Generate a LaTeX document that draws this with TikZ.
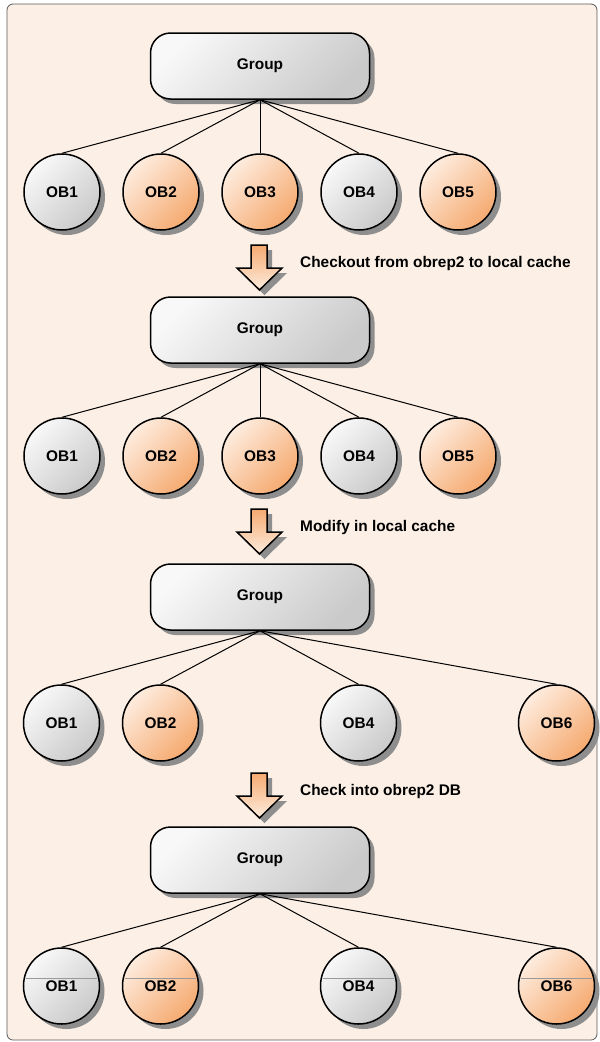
\documentclass[tikz,border=0pt]{standalone}
\usepackage{fontspec}
\setmainfont{Liberation Sans}
\usetikzlibrary{shadows}

\definecolor{sheet}{RGB}{252,239,229}
\definecolor{greylight}{RGB}{248,248,248}
\definecolor{greydark}{RGB}{202,202,202}
\definecolor{peachlight}{RGB}{254,236,222}
\definecolor{peachdark}{RGB}{245,170,112}
\definecolor{shade}{RGB}{142,142,142}

\tikzset{
  every node/.style = {font=\fontsize{15.4}{18}\selectfont\bfseries},
  castshadow/.style = {drop shadow={shadow xshift=5pt, shadow yshift=-5pt,
    fill=shade, opacity=1}},
  group/.style = {shape=rectangle, rounded corners=20pt, draw,
    line width=1.5pt, minimum width=219pt, minimum height=66pt,
    top color=greylight, bottom color=greydark, shading angle=45,
    castshadow},
  obj/.style = {shape=circle, draw, line width=1.5pt,
    minimum size=76pt, inner sep=0pt, shading angle=45, castshadow},
  plain/.style = {obj, top color=greylight, bottom color=greydark,
    shading angle=45},
  held/.style = {obj, top color=peachlight, bottom color=peachdark,
    shading angle=45},
  nudge/.style = {xshift=49pt},
  flow/.style = {draw, line width=1.5pt, line join=miter,
    top color=peachdark, bottom color=peachlight, castshadow},
  note/.style = {anchor=west, inner sep=0pt}
}

\begin{document}
\begin{tikzpicture}[x=1pt, y=-1pt,
  level distance=126pt, sibling distance=99pt,
  edge from parent/.style = {draw, line width=1pt},
  edge from parent path = {(\tikzparentnode.south) -- (\tikzchildnode.north)}]
  \useasboundingbox (0,0) rectangle (600,1042);
  % sheet behind everything
  \draw[rounded corners=6pt, fill=sheet, draw=black!65, line width=0.8pt]
    (7,4) rectangle (597,1040);

  % before checkout
  \node[group] (g1) at (260,66) {Group}
    child {node[plain] (o11) {OB1}}
    child {node[held] (o12) {OB2}}
    child {node[held] (o13) {OB3}}
    child {node[plain] (o14) {OB4}}
    child {node[held] (o15) {OB5}};

  % in the local cache
  \node[group] (g2) at (260,330) {Group}
    child {node[plain] (o21) {OB1}}
    child {node[held] (o22) {OB2}}
    child {node[held] (o23) {OB3}}
    child {node[plain] (o24) {OB4}}
    child {node[held] (o25) {OB5}};

  % after the edit
  \node[group] (g3) at (260,597) {Group}
    child {node[plain, nudge] (o31) {OB1}}
    child {node[held, nudge] (o32) {OB2}}
    child[missing]
    child {node[plain, nudge] (o34) {OB4}}
    child[missing]
    child {node[held, nudge] (o36) {OB6}};

  % checked in
  \node[group] (g4) at (260,860) {Group}
    child {node[plain, nudge] (o41) {OB1}}
    child {node[held, nudge] (o42) {OB2}}
    child[missing]
    child {node[plain, nudge] (o44) {OB4}}
    child[missing]
    child {node[held, nudge] (o46) {OB6}};

  \foreach \c in {41,42,44,46}
    \draw[black!40, line width=0.7pt, shorten <=2pt, shorten >=2pt]
      (o\c.168) -- (o\c.12);

  % steps between the states
  \foreach \y/\txt in {245/{Checkout from obrep2 to local cache},
                       509/{Modify in local cache},
                       773/{Check into obrep2 DB}} {
    \draw[flow] (251,\y) -- (267,\y) -- (267,\y+23) -- (282,\y+23)
      -- (259.5,\y+45) -- (237,\y+23) -- (251,\y+23) -- cycle;
    \node[note] (step\y) at (300,\y+19) {\txt};
  }
\end{tikzpicture}
\end{document}
